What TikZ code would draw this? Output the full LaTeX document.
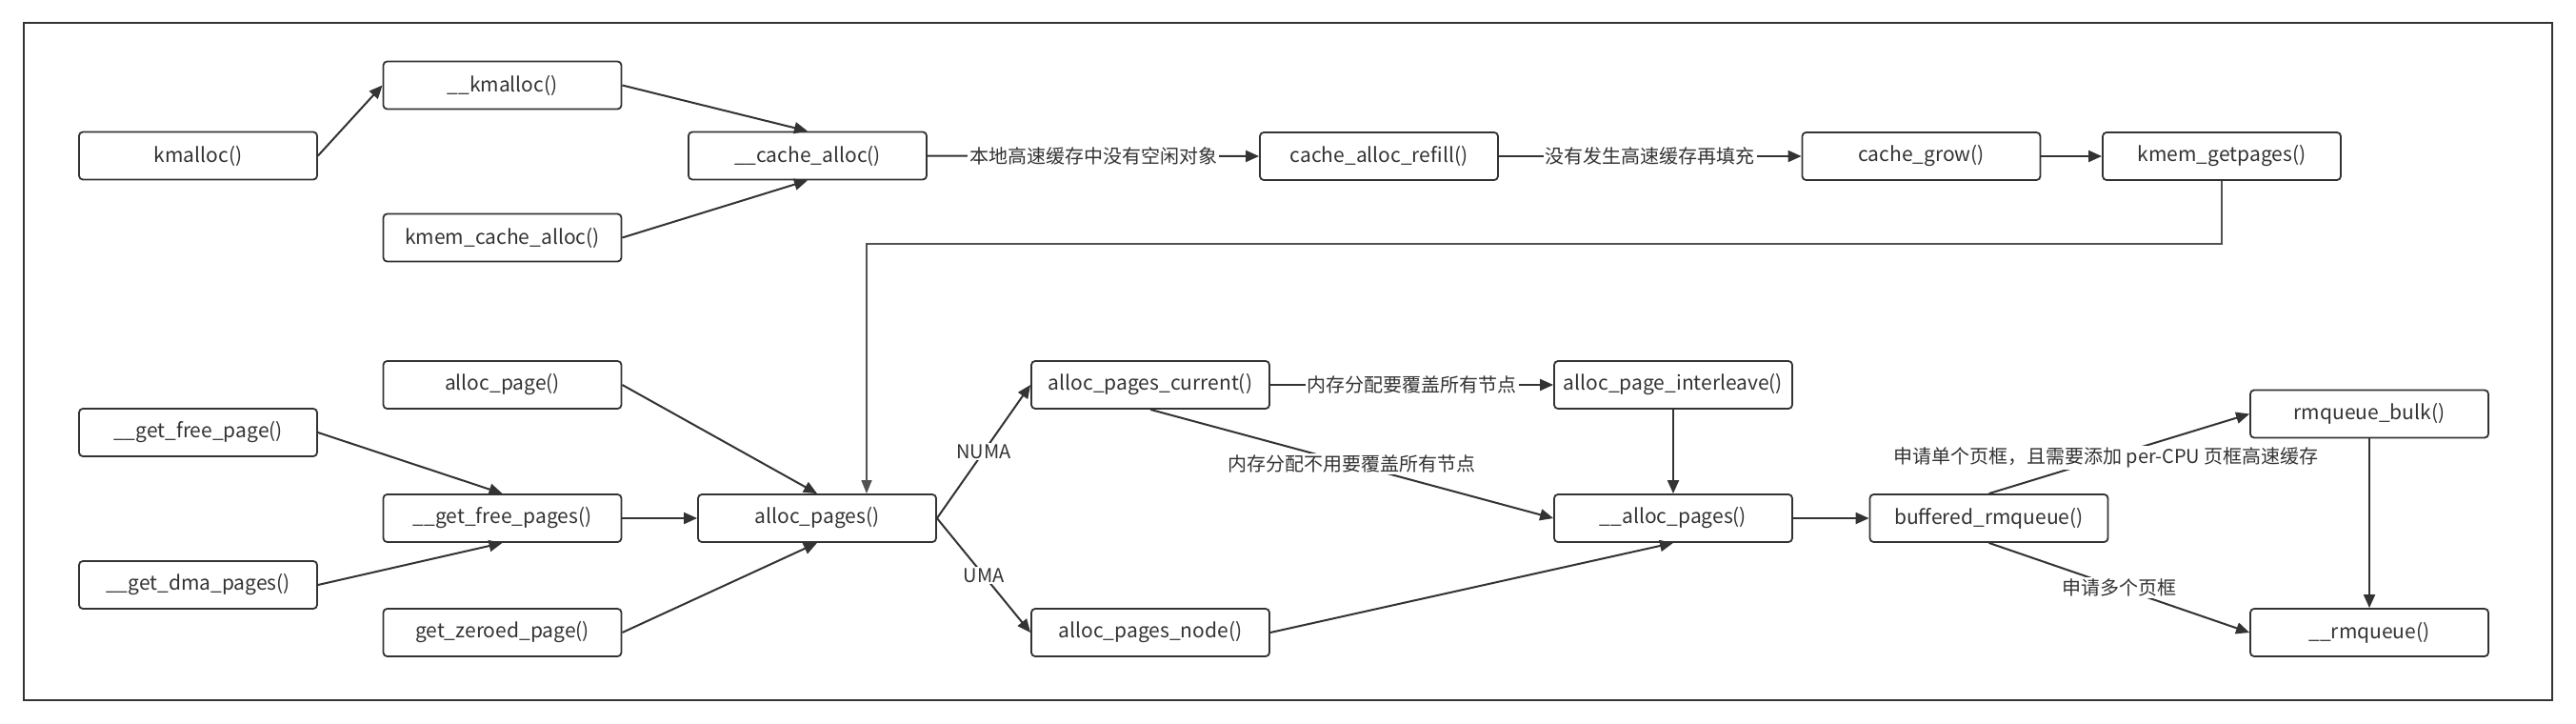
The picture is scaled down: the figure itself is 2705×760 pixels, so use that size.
\documentclass[tikz,border=0pt]{standalone}
\usepackage{fontspec}
\setmainfont{Noto Sans CJK SC}
\usetikzlibrary{arrows.meta}
\definecolor{ink}{HTML}{333333}
\begin{document}
\begin{tikzpicture}[x=0.5pt,y=-0.5pt,
 fn/.style={draw=ink, line width=0.9pt, rounded corners=2pt, fill=white, minimum width=125pt, minimum height=25pt, inner sep=0pt, font=\fontsize{10.5}{12}\selectfont, text=ink},
 conn/.style={draw=ink, line width=1pt, -{Triangle[length=7pt,width=6pt]}},
 thinconn/.style={draw=ink!85, line width=0.6pt, -{Triangle[length=7pt,width=5.5pt]}},
 lbl/.style={fill=white, inner sep=1pt, font=\fontsize{10}{12}\selectfont, text=ink},
]
\useasboundingbox (0,0) rectangle (2705,760);
\fill[white] (0,0) rectangle (2705,760);
\draw[ink, line width=1pt] (25,24) rectangle (2680,735);

% nodes
\node[fn] (kmalloc) at (208,163.5) {kmalloc()};
\node[fn] (ukmalloc) at (527.5,89.5) {\_\_kmalloc()};
\node[fn] (kcachealloc) at (527.5,249.5) {kmem\_cache\_alloc()};
\node[fn] (cachealloc) at (848,163.5) {\_\_cache\_alloc()};
\node[fn] (refill) at (1448,164) {cache\_alloc\_refill()};
\node[fn] (grow) at (2017.5,164) {cache\_grow()};
\node[fn] (getpages) at (2333,164) {kmem\_getpages()};

\node[fn] (allocpage) at (527.5,404) {alloc\_page()};
\node[fn] (gfp) at (208,454) {\_\_get\_free\_page()};
\node[fn] (gfps) at (527.5,544) {\_\_get\_free\_pages()};
\node[fn] (dma) at (208,614) {\_\_get\_dma\_pages()};
\node[fn] (zeroed) at (527.5,664) {get\_zeroed\_page()};
\node[fn] (allocpages) at (858,544) {alloc\_pages()};

\node[fn] (current) at (1208,404) {alloc\_pages\_current()};
\node[fn] (interleave) at (1757,404) {alloc\_page\_interleave()};
\node[fn] (ualloc) at (1757,544) {\_\_alloc\_pages()};
\node[fn] (pnode) at (1208,664) {alloc\_pages\_node()};

\node[fn] (buffered) at (2088.5,544) {buffered\_rmqueue()};
\node[fn] (bulk) at (2488,434.5) {rmqueue\_bulk()};
\node[fn] (rmq) at (2488,664) {\_\_rmqueue()};

% connectors
\draw[conn] (kmalloc.east) -- (ukmalloc.west);
\draw[conn] (ukmalloc.east) -- (cachealloc.north);
\draw[conn] (kcachealloc.east) -- (cachealloc.south);
\draw[conn] (cachealloc.east) -- node[lbl]{本地高速缓存中没有空闲对象} (refill.west);
\draw[conn] (refill.east) -- node[lbl]{没有发生高速缓存再填充} (grow.west);
\draw[conn] (grow.east) -- (getpages.west);
\coordinate (bend) at (910,256);
\draw[thinconn] (getpages.south) |- (bend) -- (bend |- allocpages.north);

\draw[conn] (allocpage.east) -- (allocpages.north);
\draw[conn] (gfp.east) -- (gfps.north);
\draw[conn] (dma.east) -- (gfps.south);
\draw[conn] (gfps.east) -- (allocpages.west);
\draw[conn] (zeroed.east) -- (allocpages.south);

\draw[conn] (allocpages.east) -- node[lbl]{NUMA} (current.west);
\draw[conn] (allocpages.east) -- node[lbl]{UMA} (pnode.west);
\draw[conn] (current.east) -- node[lbl]{内存分配要覆盖所有节点} (interleave.west);
\draw[conn] (current.south) -- node[lbl]{内存分配不用要覆盖所有节点} (ualloc.west);
\draw[conn] (interleave.south) -- (ualloc.north);
\draw[conn] (pnode.east) -- (ualloc.south);
\draw[conn] (ualloc.east) -- (buffered.west);

\draw[conn] (buffered.north) -- node[lbl, pos=0.45]{申请单个页框，且需要添加 per-CPU 页框高速缓存} (bulk.west);
\draw[conn] (buffered.south) -- node[lbl]{申请多个页框} (rmq.west);
\draw[conn] (bulk.south) -- (rmq.north);
\end{tikzpicture}
\end{document}
